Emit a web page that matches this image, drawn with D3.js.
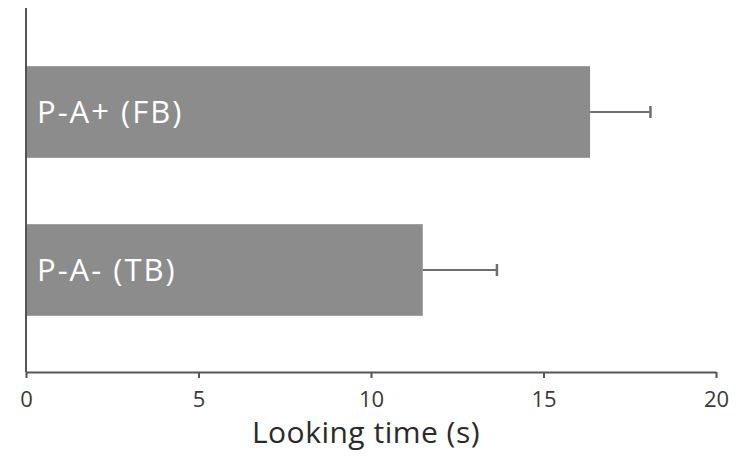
<!DOCTYPE html>
<html><head><meta charset="utf-8">
<script src="https://cdn.jsdelivr.net/npm/d3@7"></script>
<style>body{margin:0;background:#fff}svg{display:block}</style>
</head><body><svg id="c" width="744" height="457"></svg>
<script>
const categories = ["P-A+ (FB)", "P-A- (TB)"];
const values = [16.35, 11.5];
const errors = [1.75, 2.15];
const xTicks = [0, 5, 10, 15, 20];
const xTitle = "Looking time (s)";

const svg = d3.select("#c");
const font = "'Open Sans', Lato, sans-serif";
const x = d3.scaleLinear().domain([0, 20]).range([26, 716]);
const y = d3.scaleBand().domain(categories).range([33, 349]).paddingInner(0.42).paddingOuter(0.21);

const data = categories.map((c, i) => ({c, v: values[i], e: errors[i]}));

svg.selectAll("rect.bar").data(data).join("rect")
  .attr("class", "bar")
  .attr("x", x(0)).attr("y", d => y(d.c))
  .attr("width", d => x(d.v) - x(0)).attr("height", y.bandwidth())
  .attr("fill", "#8c8c8c");

// error bars
const eg = svg.selectAll("g.err").data(data).join("g").attr("class", "err");
eg.append("line")
  .attr("x1", d => x(d.v)).attr("x2", d => x(d.v + d.e))
  .attr("y1", d => y(d.c) + y.bandwidth() / 2).attr("y2", d => y(d.c) + y.bandwidth() / 2)
  .attr("stroke", "#6e6e6e").attr("stroke-width", 2);
eg.append("line")
  .attr("x1", d => x(d.v + d.e)).attr("x2", d => x(d.v + d.e))
  .attr("y1", d => y(d.c) + y.bandwidth() / 2 - 6).attr("y2", d => y(d.c) + y.bandwidth() / 2 + 6)
  .attr("stroke", "#6e6e6e").attr("stroke-width", 2.5);

// bar labels
svg.selectAll("text.lbl").data(data).join("text")
  .attr("class", "lbl")
  .attr("x", x(0) + 11).attr("y", d => y(d.c) + y.bandwidth() / 2 + 11)
  .attr("fill", "#fff").attr("font-family", font).attr("font-size", 31)
  .attr("letter-spacing", 2)
  .text(d => d.c);

// y axis line
svg.append("line").attr("x1", x(0)).attr("x2", x(0)).attr("y1", 8).attr("y2", 372)
  .attr("stroke", "#555").attr("stroke-width", 2);

// x axis
const ax = svg.append("g").attr("transform", "translate(0,372)")
  .call(d3.axisBottom(x).tickValues(xTicks).tickSize(6).tickPadding(13).tickSizeOuter(0));
ax.select(".domain").attr("stroke", "#555").attr("stroke-width", 2);
ax.selectAll(".tick line").attr("stroke", "#555").attr("stroke-width", 2);
ax.selectAll(".tick text").attr("font-family", font).attr("font-size", 22).attr("fill", "#3a3a3a");

svg.append("text").attr("x", 366).attr("y", 443).attr("text-anchor", "middle")
  .attr("font-family", font).attr("font-size", 30).attr("letter-spacing", 0.5)
  .attr("fill", "#2a2a2a").text(xTitle);
</script></body></html>
